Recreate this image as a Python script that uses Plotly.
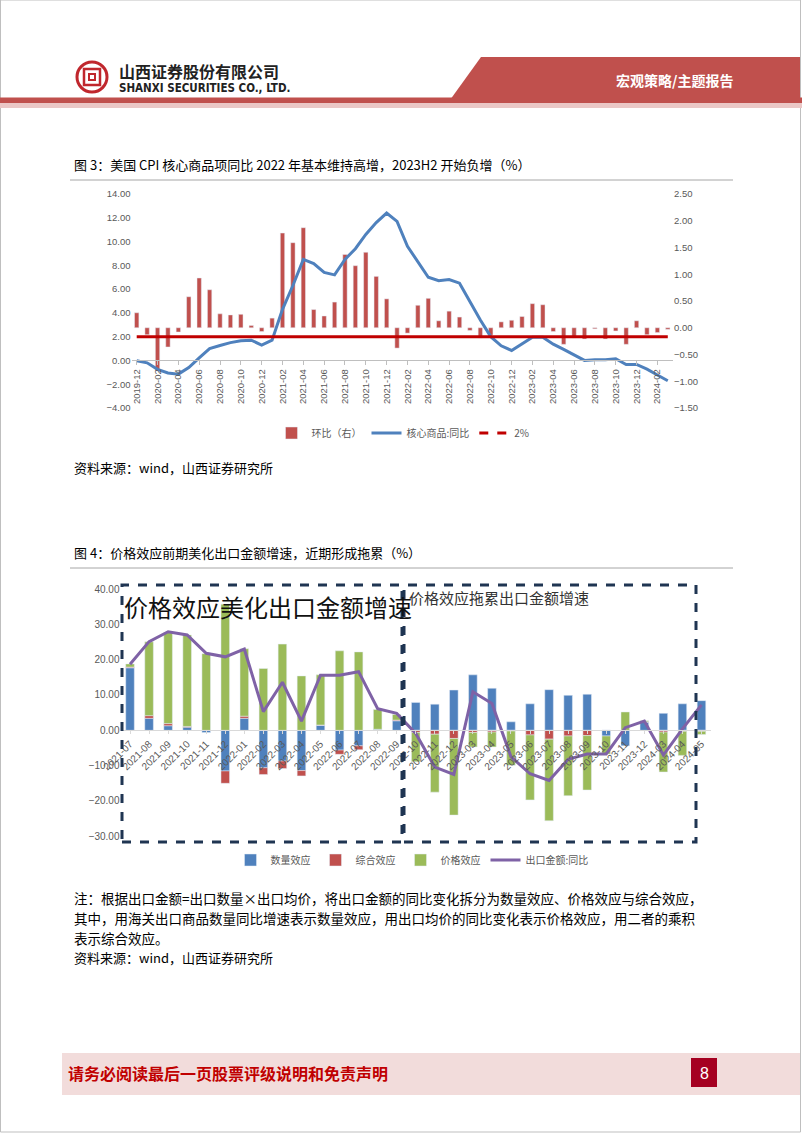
import plotly.graph_objects as go
import pandas as pd

W, H = 802, 1133
def px(x): return x / W
def py(y): return 1 - y / H

CJK = "Noto Sans CJK SC"
NUM = "Liberation Sans, Noto Sans CJK SC"

# ---------------- Chart 1 data ----------------
months1 = [p.strftime('%Y-%m') for p in pd.period_range('2019-12', '2024-03', freq='M')]
mom = [0.28, -0.13, -0.80, -0.36, -0.08, 0.58, 0.93, 0.71, 0.26, 0.24, 0.25, 0.04, -0.07,
       0.18, 1.77, 1.59, 1.87, 0.34, 0.22, 0.48, 1.37, 1.16, 1.41, 0.96, 0.54,
       -0.38, -0.10, 0.42, 0.55, 0.13, 0.31, 0.20, -0.05, -0.19, -0.14, 0.11, 0.14,
       0.21, 0.45, 0.43, -0.07, -0.31, -0.19, -0.21, -0.02, -0.21, -0.06, -0.31, 0.13,
       -0.13, -0.09, -0.03]
core_yoy = [-0.03, -0.2, -0.75, -1.05, -1.15, -0.6, 0.22, 1.0, 1.26, 1.5, 1.65, 1.7, 1.3,
            1.7, 4.3, 6.3, 8.5, 8.15, 7.4, 7.2, 8.5, 9.4, 10.6, 11.6, 12.4,
            11.7, 9.6, 8.3, 7.0, 6.7, 6.8, 6.5, 4.9, 3.4, 2.0, 1.23, 0.84,
            1.4, 1.96, 1.96, 1.37, 0.93, 0.45, 0.0, 0.06, 0.06, 0.14, -0.34, -0.34,
            -0.73, -1.23, -1.71]
target = [2.0] * len(months1)
ticks1 = months1[::2]

# ---------------- Chart 2 data ----------------
cats2 = ['2021-07', '2021-08', '2021-09', '2021-10', '2021-11', '2021-12',
         '2022-01', '2022-02', '2022-03', '2022-04', '2022-05', '2022-06',
         '2022-07', '2022-08', '2022-09', '2022-10', '2022-11', '2022-12',
         '2023-03', '2023-04', '2023-05', '2023-06', '2023-07', '2023-08',
         '2023-09', '2023-10', '2023-11', '2023-12', '2024-03', '2024-04', '2024-05']
qty = [17.7, 3.4, 1.3, 0.9, -0.6, -11.5, 3.4, -10.6, -8.7, -11.4, 1.4, -5.6, -4.4, 0.3, 2.7,
       7.9, 7.4, 11.4, 15.7, 11.9, 2.4, 7.5, 11.5, 9.9, 10.2, -1.6, -4.4, 2.3, 4.8, 7.5, 8.4]
comb = [0.2, 0.75, 0.6, 0.2, 0.0, -3.5, 0.6, -1.9, -2.1, -1.5, 0.1, -1.2, -1.1, 0.0, 0.2,
        -0.6, -1.1, -2.3, -0.6, -0.5, -0.2, -1.3, -2.5, -1.6, -1.5, 0.1, 0.0, 0.1, -0.5, -0.3, -0.3]
price = [0.9, 20.9, 25.8, 25.9, 21.7, 35.7, 19.1, 17.5, 24.4, 15.4, 14.2, 22.5, 22.2, 5.6, 1.6,
         -8.3, -16.4, -21.7, -4.1, -4.2, -9.7, -18.4, -23.1, -16.9, -15.4, -5.1, 5.2, 0.3, -11.3, -6.8, -0.9]
total = [18.7, 25.1, 27.9, 27.0, 21.8, 20.8, 23.0, 5.3, 13.6, 2.6, 15.6, 15.6, 16.6, 6.1, 4.8,
         -0.9, -10.4, -12.5, 10.9, 7.6, -7.5, -12.3, -14.2, -8.2, -6.7, -6.7, 0.75, 2.6, -7.0, 0.4, 7.2]

fig = go.Figure()

# Chart 1 traces
fig.add_trace(go.Bar(x=months1, y=mom, name='环比（右）', marker_color='#C0504D', width=0.42,
                     xaxis='x', yaxis='y', legend='legend'))
fig.add_trace(go.Scatter(x=months1, y=core_yoy, name='核心商品:同比', mode='lines',
                         line=dict(color='#4F81BD', width=3), xaxis='x', yaxis='y2', legend='legend'))
fig.add_trace(go.Scatter(x=months1, y=target, name='2%', mode='lines', showlegend=False,
                         line=dict(color='#C00000', width=3), xaxis='x', yaxis='y2', legend='legend'))
fig.add_trace(go.Scatter(x=[None], y=[None], name='2%', mode='lines',
                         line=dict(color='#C00000', width=3, dash='dash'), xaxis='x', yaxis='y2', legend='legend'))

# Chart 2 traces
fig.add_trace(go.Bar(x=cats2, y=qty, name='数量效应', marker_color='#4F81BD', width=0.45,
                     xaxis='x2', yaxis='y3', legend='legend2'))
fig.add_trace(go.Bar(x=cats2, y=comb, name='综合效应', marker_color='#C0504D', width=0.45,
                     xaxis='x2', yaxis='y3', legend='legend2'))
fig.add_trace(go.Bar(x=cats2, y=price, name='价格效应', marker_color='#9BBB59', width=0.45,
                     xaxis='x2', yaxis='y3', legend='legend2'))
fig.add_trace(go.Scatter(x=cats2, y=total, name='出口金额:同比', mode='lines',
                         line=dict(color='#7F62A6', width=3), xaxis='x2', yaxis='y3', legend='legend2'))

tickfont1 = dict(family=NUM, size=9.5, color='#595959')
tickfont2 = dict(family=NUM, size=10, color='#595959')

fig.update_layout(
    width=W, height=H, margin=dict(l=0, r=0, t=0, b=0, autoexpand=False),
    paper_bgcolor='white', plot_bgcolor='rgba(0,0,0,0)',
    barmode='relative', showlegend=True,
    xaxis=dict(domain=[px(131.5), px(673)], anchor='free', position=py(360.4), automargin=False,
               type='category', categoryorder='array', categoryarray=months1,
               range=[-0.5, len(months1) - 0.5],
               tickmode='array', tickvals=ticks1, ticktext=ticks1, tickangle=-90,
               tickfont=tickfont1, showline=True, linecolor='#BFBFBF', linewidth=1,
               ticks='outside', ticklen=4, tickcolor='#BFBFBF', showgrid=False, zeroline=False),
    yaxis=dict(domain=[py(408), py(194)], anchor='x', side='right', range=[-1.5, 2.5], automargin=False,
               tickmode='array', tickvals=[-1.5, -1.0, -0.5, 0, 0.5, 1.0, 1.5, 2.0, 2.5],
               tickformat='.2f', tickfont=tickfont1, showgrid=False, zeroline=False, showline=False),
    yaxis2=dict(domain=[py(408), py(194)], anchor='x', side='left', overlaying='y', range=[-4, 14],
                automargin=False,
                tickmode='array', tickvals=[-4, -2, 0, 2, 4, 6, 8, 10, 12, 14],
                tickformat='.2f', tickfont=tickfont1, showgrid=False, zeroline=False, showline=False),
    xaxis2=dict(domain=[px(120.5), px(711)], anchor='free', position=py(730.3), automargin=False,
                type='category', categoryorder='array', categoryarray=cats2,
                range=[-0.5, len(cats2) - 0.5], tickangle=-45, tickfont=tickfont2,
                showline=True, linecolor='#D9D9D9', linewidth=1, ticks='outside', ticklen=3,
                tickcolor='#D9D9D9', showgrid=False, zeroline=False),
    yaxis3=dict(domain=[py(836.3), py(589)], anchor='x2', range=[-30, 40], automargin=False,
                tickmode='array', tickvals=[-30, -20, -10, 0, 10, 20, 30, 40],
                tickformat='.2f', tickfont=tickfont2, showgrid=False, zeroline=False, showline=False),
    legend=dict(orientation='h', x=px(403), xanchor='center', y=py(433), yanchor='middle',
                font=dict(family=CJK, size=10, color='#595959'), itemwidth=30,
                bgcolor='rgba(0,0,0,0)', traceorder='normal'),
    legend2=dict(orientation='h', x=px(412), xanchor='center', y=py(860), yanchor='middle',
                 font=dict(family=CJK, size=10, color='#595959'), itemwidth=30,
                 bgcolor='rgba(0,0,0,0)', traceorder='normal'),
)

shapes = []
# page border
shapes.append(dict(type='rect', xref='paper', yref='paper', x0=px(0.5), x1=px(800.5), y0=py(1132), y1=py(0),
                   line=dict(color='#BFBFBF', width=1), fillcolor='rgba(0,0,0,0)', layer='below'))
# header red band and banner
shapes.append(dict(type='rect', xref='paper', yref='paper', x0=0, x1=px(802), y0=py(108), y1=py(103),
                   line=dict(width=0), fillcolor='#EBC7C6', layer='below'))
shapes.append(dict(type='rect', xref='paper', yref='paper', x0=0, x1=px(802), y0=py(103), y1=py(97.5),
                   line=dict(width=0), fillcolor='#C0504D', layer='below'))
shapes.append(dict(type='path', xref='paper', yref='paper',
                   path=f'M {px(481)},{py(57)} L {px(800)},{py(57)} L {px(800)},{py(100)} L {px(450)},{py(100)} Z',
                   line=dict(width=0), fillcolor='#C0504D', layer='below'))
# logo
shapes.append(dict(type='circle', xref='paper', yref='paper', x0=px(77), x1=px(107), y0=py(92), y1=py(62),
                   line=dict(color='#C0272D', width=3), fillcolor='white'))
shapes.append(dict(type='rect', xref='paper', yref='paper', x0=px(84), x1=px(100), y0=py(85), y1=py(69),
                   line=dict(color='#C0272D', width=2.5), fillcolor='white'))
shapes.append(dict(type='rect', xref='paper', yref='paper', x0=px(89), x1=px(95), y0=py(80), y1=py(74),
                   line=dict(color='#C0272D', width=2), fillcolor='white'))
# thin lines near charts
for yy in (180, 568):
    shapes.append(dict(type='line', xref='paper', yref='paper', x0=px(70), x1=px(733), y0=py(yy), y1=py(yy),
                       line=dict(color='#A6A6A6', width=1)))
# dashed boxes chart 2
shapes.append(dict(type='rect', xref='paper', yref='paper', x0=px(122), x1=px(402), y0=py(842), y1=py(585),
                   line=dict(color='#1F3552', width=3, dash='dash'), fillcolor='rgba(0,0,0,0)'))
shapes.append(dict(type='rect', xref='paper', yref='paper', x0=px(404), x1=px(696), y0=py(842), y1=py(585),
                   line=dict(color='#1F3552', width=3, dash='dash'), fillcolor='rgba(0,0,0,0)'))
# footer
shapes.append(dict(type='rect', xref='paper', yref='paper', x0=px(62), x1=px(800), y0=py(1095), y1=py(1053),
                   line=dict(width=0), fillcolor='#F2DCDB', layer='below'))
shapes.append(dict(type='rect', xref='paper', yref='paper', x0=px(691), x1=px(717), y0=py(1087), y1=py(1058),
                   line=dict(width=0), fillcolor='#A50021'))
fig.update_layout(shapes=shapes)

ann = []
def text(x, y, s, size, color='black', family=CJK, xanchor='left', bold=False):
    if bold:
        s = f'<b>{s}</b>'
    ann.append(dict(xref='paper', yref='paper', x=px(x), y=py(y), text=s, showarrow=False,
                    xanchor=xanchor, yanchor='middle', font=dict(size=size, color=color, family=family)))

text(117, 71, '山西证券股份有限公司', 16, color='#222222', bold=True)
text(117, 88, 'SHANXI SECURITIES CO., LTD.', 11.5, color='#222222',
     family='Liberation Sans Narrow, DejaVu Sans Condensed, Liberation Sans', bold=True)
text(674, 80, '宏观策略/主题报告', 14, color='white', xanchor='center', bold=True)

text(72, 165, '图 3：美国 CPI 核心商品项同比 2022 年基本维持高增，2023H2 开始负增（%）', 13)
text(72, 467, '资料来源：wind，山西证券研究所', 13)
text(72, 552, '图 4：价格效应前期美化出口金额增速，近期形成拖累（%）', 13)
text(122, 606, '价格效应美化出口金额增速', 24, color='#111111')
text(407, 598, '价格效应拖累出口金额增速', 15, color='#333333')

text(72, 898, '注：根据出口金额=出口数量×出口均价，将出口金额的同比变化拆分为数量效应、价格效应与综合效应，', 13.5)
text(72, 918, '其中，用海关出口商品数量同比增速表示数量效应，用出口均价的同比变化表示价格效应，用二者的乘积', 13.5)
text(72, 938, '表示综合效应。', 13.5)
text(72, 958, '资料来源：wind，山西证券研究所', 13)

text(66, 1073, '请务必阅读最后一页股票评级说明和免责声明', 16, color='#C00000', bold=True)
text(704, 1073, '8', 16, color='white', xanchor='center', family='Liberation Sans')

fig.update_layout(annotations=ann)
fig.write_html('out.html', config={'displayModeBar': False},
               post_script="document.body.style.margin='0';document.body.style.overflow='hidden';")
